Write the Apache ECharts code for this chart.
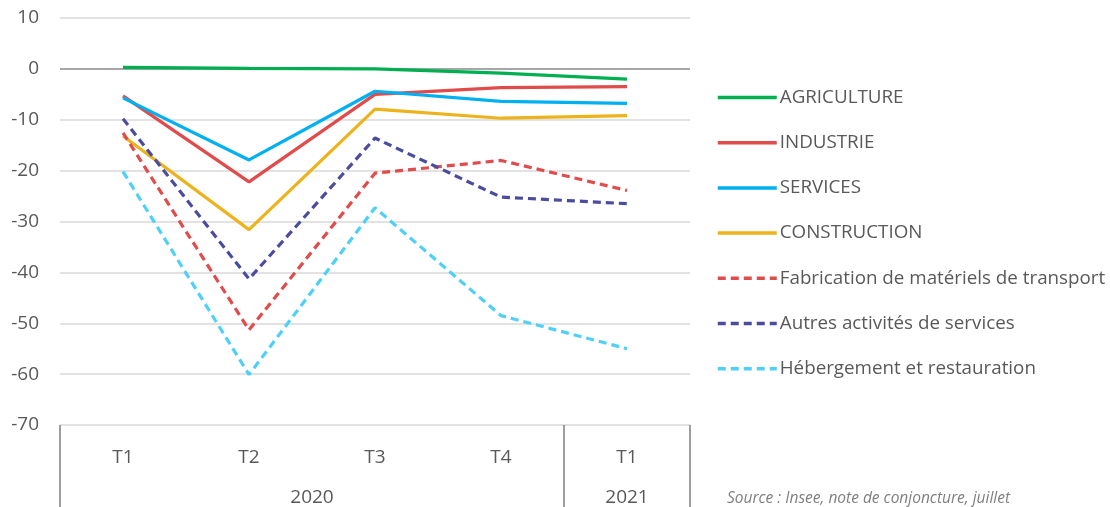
<!DOCTYPE html>
<html><head><meta charset="utf-8">
<script src="https://cdn.jsdelivr.net/npm/echarts@6/dist/echarts.min.js"></script>
<style>html,body{margin:0;padding:0;background:#fff}#c{width:1110px;height:507px}</style>
</head><body><div id="c"></div>
<script>
const quarters = ['T1','T2','T3','T4','T1'];
const years = ['2020','2021'];
const yTicks = [-70,-60,-50,-40,-30,-20,-10,0,10];
const agriculture = [0.3, 0.1, 0.0, -0.85, -2.0];
const industrie = [-5.3, -22.2, -5.0, -3.7, -3.5];
const services = [-5.7, -17.9, -4.4, -6.4, -6.8];
const construction = [-13.2, -31.6, -7.9, -9.7, -9.2];
const fabrication = [-12.6, -51.3, -20.5, -18.0, -23.9];
const autres = [-9.8, -41.3, -13.6, -25.2, -26.5];
const hebergement = [-20.2, -60.1, -27.3, -48.5, -55.0];
const sourceText = 'Source : Insee, note de conjoncture, juillet';

const FONT = 'Open Sans';
const txt = '#595959';
function line(name, data, color, dashed){
  return {name, type:'line', data, xAxisIndex:0, symbol:'circle', symbolSize:0, showSymbol:false,
    lineStyle:{color, width:3.2, type: dashed ? [8,5] : 'solid'}, itemStyle:{color}, z:3};
}
const chart = echarts.init(document.getElementById('c'), null, {renderer:'canvas'});
chart.setOption({
  animation:false,
  textStyle:{fontFamily:FONT},
  grid:{left:60, right:420, top:18, bottom:82, containLabel:false},
  title:{text:sourceText, left:727, top:491, padding:0, textStyle:{fontFamily:FONT, fontSize:15.5, fontStyle:'italic', fontWeight:'normal', color:'#7f7f7f'}},
  legend:{orient:'vertical', left:711, top:81, itemWidth:59, itemHeight:14, itemGap:22.2,
    itemStyle:{opacity:0}, lineStyle:{width:3.5},
    textStyle:{fontFamily:FONT, fontSize:18.8, color:txt, padding:[0,0,0,-2], lineHeight:23},
    data:['AGRICULTURE','INDUSTRIE','SERVICES','CONSTRUCTION','Fabrication de matériels de transport','Autres activités de services','Hébergement et restauration']},
  xAxis:[
    {type:'category', data:quarters, boundaryGap:true, position:'bottom',
      axisLine:{show:false}, axisTick:{show:false},
      axisLabel:{fontFamily:FONT, fontSize:19, color:txt, margin:23}},
    {type:'value', min:0, max:5, position:'bottom',
      axisLine:{show:false},
      splitLine:{show:false},
      axisTick:{show:true, customValues:[0,4,5], length:82, lineStyle:{color:'#7f7f7f', width:1.5}},
      axisLabel:{customValues:[2,4.5], margin:63, fontFamily:FONT, fontSize:19, color:txt,
        formatter:v => v < 4 ? years[0] : years[1]}}
  ],
  yAxis:{type:'value', min:yTicks[0], max:yTicks[yTicks.length-1], interval:10,
    axisLine:{show:false}, axisTick:{show:false},
    axisLabel:{fontFamily:FONT, fontSize:19, color:txt, margin:21},
    splitLine:{show:true, lineStyle:{width:1.5, color:yTicks.map(v => v===0 ? '#8a8a8a' : '#d9d9d9')}}},
  series:[
    line('AGRICULTURE', agriculture, '#00B050', false),
    line('INDUSTRIE', industrie, '#E04B4B', false),
    line('SERVICES', services, '#00B0F0', false),
    line('CONSTRUCTION', construction, '#EDB31C', false),
    line('Fabrication de matériels de transport', fabrication, '#E04B4B', true),
    line('Autres activités de services', autres, '#4B4C9E', true),
    line('Hébergement et restauration', hebergement, '#4FD0F7', true)
  ]
});
</script></body></html>
